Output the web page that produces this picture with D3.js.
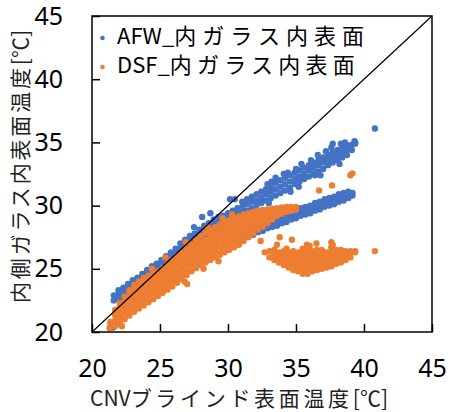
<!DOCTYPE html>
<html>
<head>
<meta charset="utf-8">
<script src="https://cdn.jsdelivr.net/npm/d3@7"></script>
<style>
  html, body { margin: 0; padding: 0; background: #fff; }
  svg { display: block; }
</style>
</head>
<body>
<div id="chart"></div>
<script>
// Scatter readings, grouped in columns: [x, y, y, ...]
const afwBand = [
  [21.6, 22.5, 22.9], [21.95, 22.6, 23.0, 23.3], [22.3, 22.5, 22.9, 23.3, 23.5],
  [22.65, 22.7, 23.1, 23.5, 23.8], [23.0, 23.0, 23.4, 23.8, 24.1], [23.35, 23.3, 23.7, 24.1, 24.3],
  [23.7, 23.5, 23.9, 24.3, 24.6], [24.05, 23.8, 24.2, 24.6, 24.9], [24.4, 24.1, 24.5, 24.9, 25.2],
  [24.75, 24.3, 24.7, 25.1, 25.4], [25.1, 24.6, 25.0, 25.4, 25.7], [25.45, 24.9, 25.3, 25.7, 26.0],
  [25.8, 25.2, 25.6, 26.0, 26.3], [26.15, 25.5, 25.9, 26.3, 26.6], [26.5, 25.8, 26.2, 26.6, 27.0],
  [26.85, 26.1, 26.5, 26.9, 27.3], [27.2, 26.4, 26.8, 27.2, 27.6], [27.55, 26.7, 27.1, 27.5, 27.8],
  [27.9, 27.0, 27.4, 27.8, 28.1], [28.25, 27.3, 27.7, 28.1, 28.4], [28.6, 27.6, 28.0, 28.4, 28.6],
  [28.95, 27.9, 28.3, 28.7, 28.9], [29.3, 28.1, 28.5, 28.9, 29.1], [29.65, 28.4, 28.8, 29.2],
  [30.0, 28.6, 29.0, 29.4], [30.35, 28.8, 29.2, 29.6], [30.7, 29.0, 29.4, 29.8]
];
const afwUpper = [
  [31.05, 29.5, 29.9, 30.3], [31.4, 29.6, 30.1, 30.5], [31.75, 29.8, 30.3, 30.7],
  [32.1, 30.0, 30.4, 30.9], [32.45, 30.2, 30.6, 31.1], [32.8, 30.4, 30.9, 31.3],
  [33.15, 30.6, 31.1, 31.5], [33.5, 30.8, 31.3, 31.8], [33.85, 31.0, 31.5, 32.0],
  [34.2, 31.2, 31.7, 32.2], [34.55, 31.4, 31.9, 32.4], [34.9, 31.7, 32.1, 32.6],
  [35.25, 31.9, 32.3, 32.8], [35.6, 32.1, 32.5, 33.0], [35.95, 32.3, 32.8, 33.2],
  [36.3, 32.5, 33.0, 33.4], [36.65, 32.7, 33.2, 33.6], [37.0, 32.9, 33.4, 33.8],
  [37.35, 33.2, 33.6, 34.0], [37.7, 33.4, 33.8, 34.2], [38.05, 33.6, 34.0, 34.4],
  [38.4, 33.8, 34.2, 34.6], [38.75, 34.0, 34.4, 34.8], [39.1, 34.4, 34.8], [39.35, 34.9, 35.0]
];
const afwLower = [
  [30.8, 27.3, 27.6, 27.9], [31.15, 27.4, 27.7, 28.0], [31.5, 27.6, 27.9, 28.2],
  [31.85, 27.7, 28.0, 28.3], [32.2, 27.9, 28.2, 28.5], [32.55, 28.0, 28.3, 28.6],
  [32.9, 28.2, 28.5, 28.8], [33.25, 28.3, 28.6, 28.9], [33.6, 28.4, 28.7, 29.0],
  [33.95, 28.6, 28.9, 29.2], [34.3, 28.7, 29.0, 29.3], [34.65, 28.9, 29.2, 29.5],
  [35.0, 29.0, 29.3, 29.6], [35.35, 29.2, 29.5, 29.8], [35.7, 29.3, 29.6, 29.9],
  [36.05, 29.4, 29.7, 30.0], [36.4, 29.6, 29.9, 30.2], [36.75, 29.7, 30.0, 30.3],
  [37.1, 29.9, 30.2, 30.5], [37.45, 30.0, 30.3, 30.6], [37.8, 30.1, 30.4, 30.7],
  [38.15, 30.3, 30.6, 30.9], [38.5, 30.4, 30.7, 31.0], [38.85, 30.6, 30.9, 31.1], [39.15, 30.8, 31.0]
];
const afwSingles = [
  [21.55, 20.35], [21.75, 20.6], [27.5, 28.3], [28.1, 29.1], [28.7, 29.4], [30.15, 30.5], [30.5, 30.5],
  [33.2, 31.9], [34.1, 32.5], [35.0, 32.9], [36.1, 33.6], [37.6, 34.6], [37.7, 34.9], [38.3, 34.9],
  [34.6, 31.1], [36.4, 32.4], [40.8, 36.1],
  [32.9, 31.7], [33.5, 32.2], [34.4, 32.6], [35.4, 33.3], [36.6, 34.0], [37.2, 34.3], [38.6, 35.0],
  [39.3, 35.1], [33.0, 30.2], [35.2, 31.5], [36.8, 32.4], [38.2, 33.3]
];

const dsfMain = [
  [21.35, 20.5, 20.8], [21.7, 20.45, 20.9, 21.35, 21.75], [22.05, 20.7, 21.15, 21.6, 22.0, 22.3],
  [22.4, 21.0, 21.45, 21.9, 22.35, 22.8], [22.75, 21.3, 21.75, 22.2, 22.65, 23.0, 23.3],
  [23.1, 21.6, 22.05, 22.5, 22.95, 23.35, 23.7], [23.45, 21.85, 22.3, 22.75, 23.2, 23.6, 24.0],
  [23.8, 22.1, 22.55, 23.0, 23.45, 23.85, 24.25], [24.15, 22.35, 22.8, 23.25, 23.7, 24.1, 24.45],
  [24.5, 22.6, 23.05, 23.5, 23.95, 24.3, 24.6], [24.85, 22.85, 23.3, 23.75, 24.2, 24.55, 24.8],
  [25.2, 23.1, 23.55, 24.0, 24.45, 24.8, 25.05], [25.55, 23.35, 23.8, 24.25, 24.7, 25.05, 25.35],
  [25.9, 23.6, 24.05, 24.5, 24.95, 25.35, 25.7], [26.25, 23.9, 24.35, 24.8, 25.25, 25.65, 26.0],
  [26.6, 24.2, 24.65, 25.1, 25.55, 25.95, 26.3], [26.95, 24.5, 24.95, 25.4, 25.85, 26.25, 26.6],
  [27.3, 24.8, 25.25, 25.7, 26.15, 26.55, 26.95], [27.65, 25.05, 25.5, 25.95, 26.4, 26.85, 27.3],
  [28.0, 25.3, 25.75, 26.2, 26.65, 27.1, 27.6], [28.35, 25.5, 25.95, 26.4, 26.85, 27.3, 27.85],
  [28.7, 25.7, 26.15, 26.6, 27.05, 27.5, 27.8, 28.1], [29.05, 25.9, 26.35, 26.8, 27.25, 27.7, 28.0, 28.3],
  [29.4, 26.1, 26.55, 27.0, 27.45, 27.9, 28.2, 28.5], [29.75, 26.3, 26.75, 27.2, 27.65, 28.1, 28.4, 28.7],
  [30.1, 26.5, 26.95, 27.4, 27.85, 28.3, 28.6, 28.85], [30.45, 26.7, 27.15, 27.6, 28.05, 28.5, 28.8, 29.0],
  [30.8, 26.9, 27.35, 27.8, 28.25, 28.7, 28.95, 29.15], [31.15, 27.2, 27.65, 28.1, 28.55, 28.9, 29.3],
  [31.5, 27.5, 27.95, 28.4, 28.8, 29.1, 29.4], [31.85, 27.8, 28.25, 28.7, 29.05, 29.5],
  [32.2, 28.1, 28.5, 28.9, 29.25, 29.6], [32.55, 28.35, 28.75, 29.1, 29.4, 29.65],
  [32.9, 28.6, 29.0, 29.35, 29.7], [33.25, 28.9, 29.25, 29.5, 29.75], [33.6, 29.2, 29.5, 29.8],
  [33.95, 29.35, 29.6, 29.85], [34.3, 29.5, 29.7, 29.9], [34.65, 29.6, 29.9], [35.0, 29.7, 29.9]
];
const dsfLow = [
  [32.7, 26.3], [33.05, 25.9, 26.4], [33.4, 25.7, 26.1, 26.5], [33.75, 25.5, 25.9, 26.3],
  [34.1, 25.3, 25.7, 26.1, 26.4], [34.45, 25.1, 25.5, 25.9, 26.3], [34.8, 24.9, 25.3, 25.7, 26.1, 26.4],
  [35.15, 24.8, 25.2, 25.6, 26.0, 26.3], [35.5, 24.6, 25.0, 25.4, 25.8, 26.2, 26.6],
  [35.85, 24.6, 25.0, 25.4, 25.8, 26.2, 26.6], [36.2, 24.8, 25.2, 25.6, 26.0, 26.4],
  [36.55, 24.9, 25.3, 25.7, 26.1, 26.5], [36.9, 25.0, 25.4, 25.8, 26.2, 26.5],
  [37.25, 25.1, 25.5, 25.9, 26.3], [37.6, 25.2, 25.6, 26.0, 26.4, 26.7], [37.95, 25.4, 25.8, 26.2, 26.5],
  [38.3, 25.5, 25.9, 26.3, 26.5], [38.65, 25.7, 26.1, 26.4], [39.0, 25.9, 26.3, 26.4], [39.35, 26.3, 26.4]
];
const dsfSingles = [
  [21.3, 20.3], [22.2, 20.45], [24.4, 25.0], [25.4, 25.9], [26.9, 27.1], [28.5, 28.3], [29.6, 29.0],
  [30.3, 29.3], [26.8, 24.0], [27.0, 23.8], [28.2, 25.0], [29.3, 25.6],
  [35.8, 26.9], [36.5, 27.0], [37.6, 27.1], [37.7, 26.9], [36.0, 26.8],
  [32.4, 27.2], [33.6, 26.9], [33.8, 27.5], [34.7, 27.3], [34.3, 26.6], [40.8, 26.4],
  [36.7, 31.2], [37.65, 31.6], [39.0, 32.4], [39.15, 32.55]
];

const xTicks = [20, 25, 30, 35, 40, 45];
const yTicks = [20, 25, 30, 35, 40, 45];
const seriesNames = [["AFW_", "内ガラス内表面"], ["DSF_", "内ガラス内表面"]];
const seriesColors = ["#4472C4", "#ED7D31"];
const xTitle = ["CNV", "ブラインド表面温度", "[℃]"];
const yTitle = ["", "内側ガラス内表面温度", "[℃]"];

function expand(cols) {
  return cols.flatMap(([x, ...ys]) => ys.map(y => [x, y]));
}

const afwPoints = expand(afwBand).concat(expand(afwUpper), expand(afwLower), afwSingles);
const dsfPoints = expand(dsfMain).concat(expand(dsfLow), dsfSingles);

const width = 450, height = 412;
const margin = { left: 92, right: 18, top: 16, bottom: 80 };

const x = d3.scaleLinear().domain([20, 45]).range([margin.left, width - margin.right]);
const y = d3.scaleLinear().domain([20, 45]).range([height - margin.bottom, margin.top]);

const svg = d3.select("#chart").append("svg")
  .attr("width", width)
  .attr("height", height)
  .style("font-family", "'Noto Sans CJK JP', 'Noto Sans', sans-serif");

// points (AFW first, DSF drawn over it)
[afwPoints, dsfPoints].forEach((pts, i) => {
  svg.append("g")
    .attr("fill", seriesColors[i])
    .selectAll("circle")
    .data(pts)
    .join("circle")
    .attr("cx", d => x(d[0]))
    .attr("cy", d => y(d[1]))
    .attr("r", 3.2);
});

// 1:1 line
svg.append("line")
  .attr("x1", x(20)).attr("y1", y(20))
  .attr("x2", x(45)).attr("y2", y(45))
  .attr("stroke", "#000")
  .attr("stroke-width", 1.2);

// frame
svg.append("rect")
  .attr("x", x(20)).attr("y", y(45))
  .attr("width", x(45) - x(20))
  .attr("height", y(20) - y(45))
  .attr("fill", "none")
  .attr("stroke", "#000")
  .attr("stroke-width", 1.5);

// axes with inward ticks
const xAxis = svg.append("g")
  .attr("transform", `translate(0,${y(20)})`)
  .call(d3.axisBottom(x).tickValues(xTicks).tickSize(-8).tickSizeOuter(0).tickPadding(27));
const yAxis = svg.append("g")
  .attr("transform", `translate(${x(20)},0)`)
  .call(d3.axisLeft(y).tickValues(yTicks).tickSize(-8).tickSizeOuter(0).tickPadding(29));

[xAxis, yAxis].forEach(g => {
  g.select(".domain").remove();
  g.selectAll(".tick line").attr("stroke", "#000").attr("stroke-width", 1.5);
  g.selectAll(".tick text")
    .attr("fill", "#000")
    .style("font-family", "'Noto Sans', sans-serif")
    .style("font-size", "25px");
});

// text with natural latin part and spaced-out CJK part, stretched to a target width
function spacedText(sel, parts, size, target) {
  const t = sel.append("text").style("font-size", size + "px");
  const spans = parts.map(p => t.append("tspan").text(p));
  const extra = target - t.node().getComputedTextLength();
  const n = parts[1].length;
  spans[1].style("letter-spacing", (extra / n) + "px");
  return t;
}

// axis titles
spacedText(svg, xTitle, 21, 298)
  .attr("x", 90)
  .attr("y", 406)
  .attr("fill", "#222");

spacedText(svg, yTitle, 21, 273)
  .attr("transform", "translate(28,303) rotate(-90)")
  .attr("fill", "#222");

// legend
const legendY = [38, 67];
const legendLen = [253, 243];
seriesNames.forEach((name, i) => {
  svg.append("circle")
    .attr("cx", 102.5)
    .attr("cy", legendY[i])
    .attr("r", 2.3)
    .attr("fill", seriesColors[i]);
  spacedText(svg, name, 22, legendLen[i])
    .attr("x", 117)
    .attr("y", legendY[i] + 6)
    .attr("fill", "#000");
});
</script>
</body>
</html>
